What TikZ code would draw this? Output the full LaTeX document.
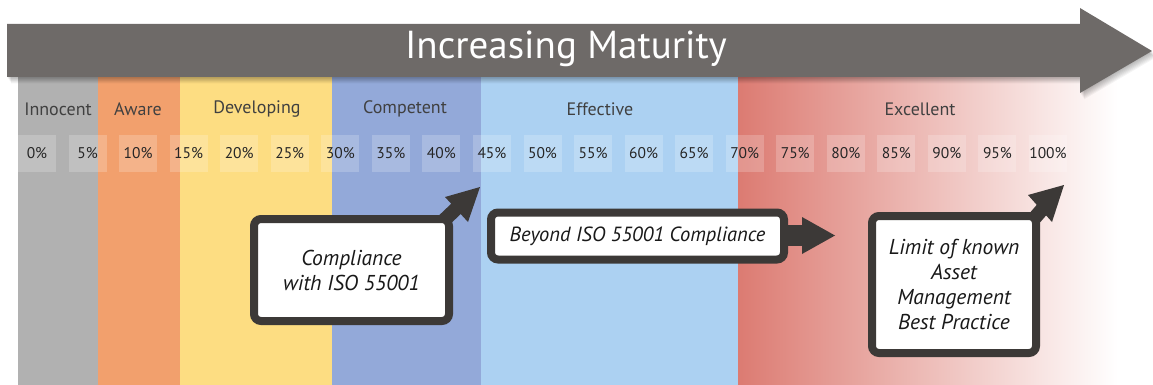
\documentclass[tikz,border=0pt]{standalone}
\usepackage{fontspec}
\setmainfont{PT Sans}
\usetikzlibrary{positioning}
\definecolor{cgray}{HTML}{B1B1B1}
\definecolor{corange}{HTML}{F2A06D}
\definecolor{cyellow}{HTML}{FDDD82}
\definecolor{cblue}{HTML}{93A9D9}
\definecolor{clblue}{HTML}{ACD1F2}
\definecolor{cred}{HTML}{DC7B72}
\definecolor{cdark}{HTML}{3C3937}
\definecolor{carrow}{HTML}{6E6A68}
\definecolor{ctext}{HTML}{404040}
\tikzset{
  stage/.style={text=ctext, font=\fontsize{18}{20}\selectfont, anchor=center},
  pct/.style={fill=white, fill opacity=0.2, text opacity=1, text=black!85,
    minimum width=38pt, minimum height=37pt, inner sep=0pt,
    font=\fontsize{15.5}{18}\selectfont},
  callbox/.style={draw=cdark, line width=8pt, fill=white, rounded corners=7pt,
    align=center, inner sep=0pt, text=black!90,
    font=\itshape\fontsize{21.5}{25}\selectfont},
  callarrow/.style={fill=cdark},
}
\begin{document}
\begin{tikzpicture}[x=1pt,y=-1pt]
\useasboundingbox (0,0) rectangle (1153,385);
% columns
\fill[cgray] (18,76) rectangle (98,385);
\fill[corange] (98,76) rectangle (180,385);
\fill[cyellow] (180,76) rectangle (332,385);
\fill[cblue] (332,76) rectangle (481,385);
\fill[clblue] (481,76) rectangle (738,385);
\shade[left color=cred, right color=white] (738,76) rectangle (1118,385);
% stage labels
\node[stage] (s1) at (58,109) {Innocent};
\node[stage] (s2) at (138,109) {Aware};
\node[stage] (s3) at (257,109) {Developing};
\node[stage] (s4) at (405,109) {Competent};
\node[stage] (s5) at (600,109) {Effective};
\node[stage] (s6) at (920,109) {Excellent};
% percent boxes
\foreach \i in {0,...,20}{
  \pgfmathsetmacro{\xx}{37+50.55*\i}
  \pgfmathtruncatemacro{\pp}{5*\i}
  \node[pct] (p\i) at (\xx,153.5) {\pp\%};
}
% big arrow shadow
\foreach \k in {1,...,7}{
  \fill[black, opacity=0.045] ([shift={(0.6*\k,0.9*\k)}]7,24) -- ++(1073,0) -- ++(0,-16) -- ++(72,43) -- ++(-72,42) -- ++(0,-16) -- ++(-1073,0) -- cycle;
}
\fill[carrow] (7,24) -- (1080,24) -- (1080,8) -- (1152,51) -- (1080,93) -- (1080,77) -- (7,77) -- cycle;
\node[text=white, font=\fontsize{39}{44}\selectfont] (title) at (566,49) {Increasing Maturity};
% callout 1
\draw[cdark, line width=14pt] (438,226) -- (459,206);
\fill[callarrow] (480,187) -- (445,197) -- (468,222) -- cycle;
\node[callbox, minimum width=195pt, minimum height=102pt] (c1) at (351.5,270) {Compliance\\with ISO 55001};
% callout 2
\fill[callarrow] (780,225) rectangle (806,246);
\fill[callarrow] (802,217) -- (835,235.5) -- (802,254) -- cycle;
\node[callbox, minimum width=293pt, minimum height=47pt, font=\itshape\fontsize{20.5}{24}\selectfont] (c2) at (637.5,236) {Beyond ISO 55001 Compliance};
% callout 3
\draw[cdark, line width=14pt] (1026,228) -- (1045,206);
\fill[callarrow] (1064,185) -- (1028,195) -- (1052,222) -- cycle;
\node[callbox, minimum width=164pt, minimum height=137pt] (c3) at (954,284.5) {Limit of known\\Asset\\Management\\Best Practice};
\end{tikzpicture}
\end{document}
